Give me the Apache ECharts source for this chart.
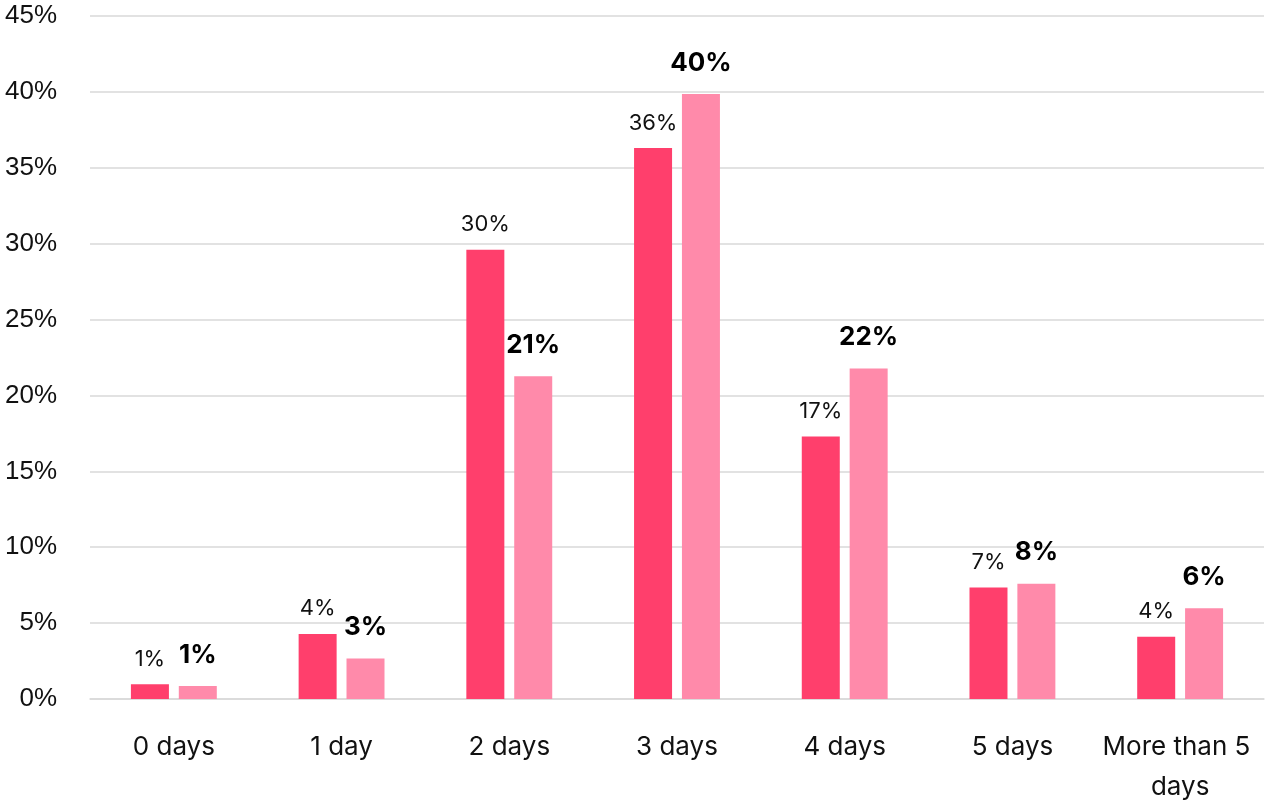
<!DOCTYPE html>
<html>
<head>
<meta charset="utf-8">
<script src="https://cdn.jsdelivr.net/npm/echarts@6/dist/echarts.min.js"></script>
<style>
  html, body { margin: 0; padding: 0; background: #fff; overflow: hidden; }
  #chart { position: fixed; left: 0; top: 0; width: 100vw; height: 100vh; }
</style>
</head>
<body>
<div id="chart"></div>
<script>
// Days categories on the x axis
const categories = ['0 days', '1 day', '2 days', '3 days', '4 days', '5 days', 'More than 5 days'];
// Share of respondents, in percent
const seriesA = [0.98, 4.29, 29.6, 36.3, 17.3, 7.35, 4.1];
const seriesB = [0.85, 2.67, 21.26, 39.86, 21.78, 7.6, 5.98];
// Y axis ticks
const yMin = 0, yMax = 45, yStep = 5;

const labelFont = 'Inter, "Open Sans", sans-serif';

const chart = echarts.init(document.getElementById('chart'));
chart.setOption({
  animation: false,
  // fixed plot height keeps the baseline at the same place whatever the window height
  grid: { left: 90, right: 0, top: 16, height: 691, containLabel: false },
  xAxis: {
    type: 'category',
    data: categories,
    axisLine: { show: true, lineStyle: { color: '#d9d9d9', width: 1.5 } },
    axisTick: { show: false },
    axisLabel: {
      color: '#111',
      fontFamily: labelFont,
      fontSize: 26,
      margin: 28,
      lineHeight: 40,
      width: 166,
      overflow: 'break',
      interval: 0
    }
  },
  yAxis: {
    type: 'value',
    min: yMin, max: yMax, interval: yStep,
    axisLine: { show: false },
    axisTick: { show: false },
    splitLine: { lineStyle: { color: '#d9d9d9', width: 1.5 } },
    axisLabel: {
      color: '#111',
      fontFamily: '"Liberation Sans", Arial, sans-serif',
      fontSize: 26,
      margin: 33,
      formatter: v => v + '%'
    }
  },
  series: [
    {
      type: 'bar',
      data: seriesA,
      barWidth: 38,
      barGap: '26%',
      itemStyle: { color: '#FF3F6C' },
      label: {
        show: true, position: 'top', distance: 14,
        color: '#111', fontFamily: labelFont, fontSize: 22,
        formatter: p => Math.round(p.value) + '%'
      }
    },
    {
      type: 'bar',
      data: seriesB,
      barWidth: 38,
      barGap: '26%',
      itemStyle: { color: '#FF8AAA' },
      label: {
        show: true, position: 'top', distance: 18,
        color: '#000', fontFamily: labelFont, fontSize: 26, fontWeight: 'bold',
        formatter: p => Math.round(p.value) + '%'
      }
    }
  ]
});
window.addEventListener('resize', () => chart.resize());
</script>
</body>
</html>
